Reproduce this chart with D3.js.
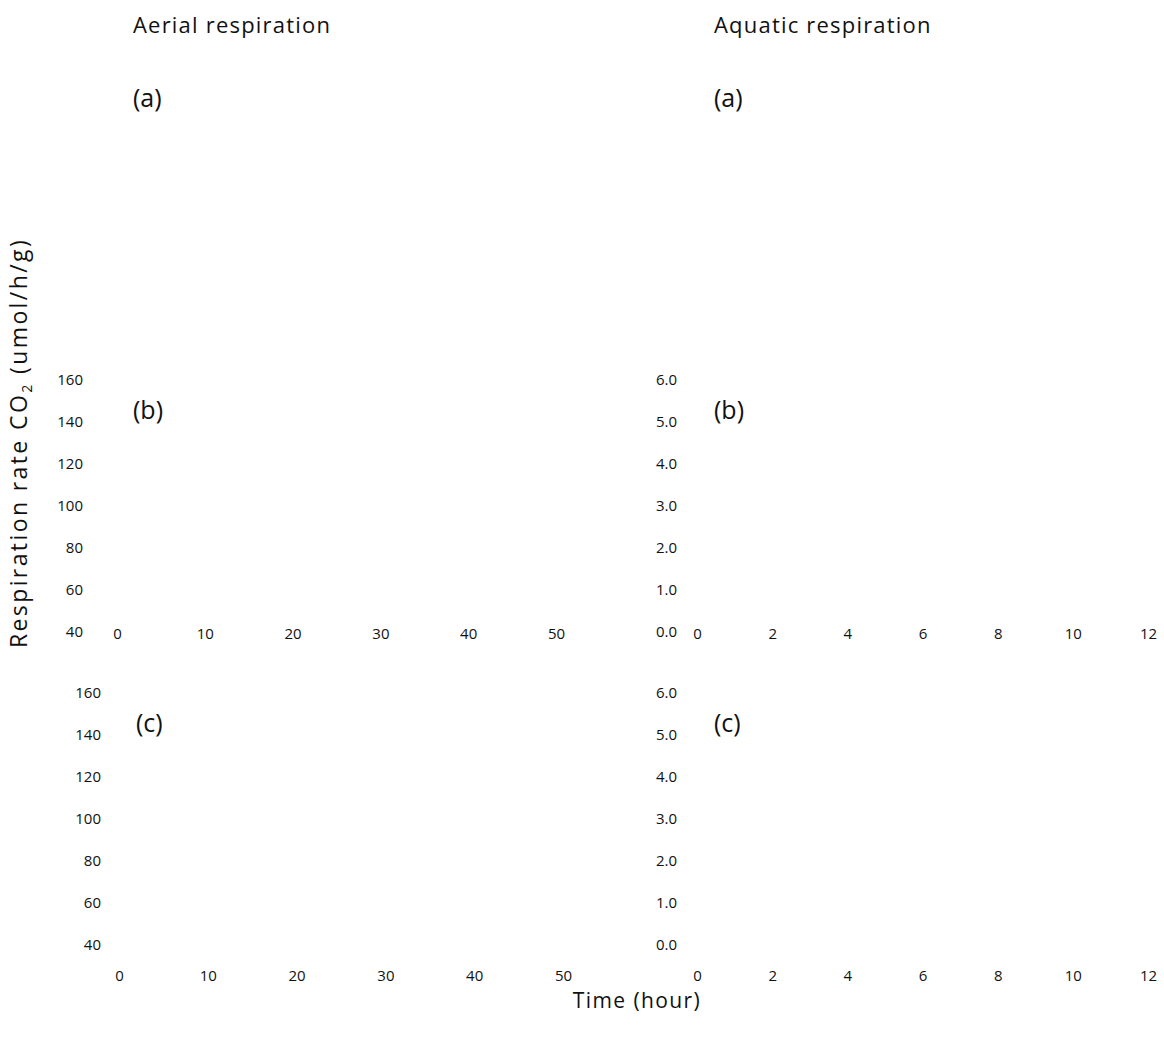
<!DOCTYPE html>
<html>
<head>
<meta charset="utf-8">
<script src="https://cdn.jsdelivr.net/npm/d3@7"></script>
<style>
  body { margin: 0; background: #fff; }
  svg { display: block; }
  text { font-family: "Open Sans", "Noto Sans", sans-serif; fill: #111; }
  .tick text { font-size: 15px; }
</style>
</head>
<body>
<script>
// ---- data (the reference shows only axes labelling; no marks are visible) ----
const columnTitles = ["Aerial respiration", "Aquatic respiration"];
const panelLabels = ["(a)", "(b)", "(c)"];
const aerialTimeTicks = [0, 10, 20, 30, 40, 50];
const aquaticTimeTicks = [0, 2, 4, 6, 8, 10, 12];
const aerialRateTicks = [40, 60, 80, 100, 120, 140, 160];
const aquaticRateTicks = [0, 1, 2, 3, 4, 5, 6];
const yAxisTitle = "Respiration rate CO";
const yAxisTitleSub = "2";
const yAxisTitleUnit = " (umol/h/g)";
const xAxisTitle = "Time (hour)";

const W = 1164, H = 1037;
const svg = d3.select("body").append("svg").attr("width", W).attr("height", H);

// column titles
const colX = [133, 714];
svg.selectAll("text.coltitle").data(columnTitles).join("text")
  .attr("class", "coltitle")
  .attr("x", (d, i) => colX[i]).attr("y", 33)
  .attr("font-size", 22).attr("letter-spacing", 1.2)
  .text(d => d);

// panel (a) labels – row with no axes
svg.selectAll("text.lab-a").data([0, 1]).join("text")
  .attr("class", "lab-a")
  .attr("x", i => colX[i]).attr("y", 107)
  .attr("font-size", 25).text(panelLabels[0]);

// panel definitions for rows (b) and (c)
const panels = [
  { row: 1, col: 0, xTicks: aerialTimeTicks, xDom: [0, 50], xRange: [117, 556], yTicks: aerialRateTicks, yDom: [40, 160], yRange: [632, 380], yLabEnd: 83, xLabY: 628, lab: [133, 419], fmt: d3.format("d") },
  { row: 1, col: 1, xTicks: aquaticTimeTicks, xDom: [0, 12], xRange: [697, 1148], yTicks: aquaticRateTicks, yDom: [0, 6], yRange: [632, 380], yLabEnd: 677, xLabY: 628, lab: [714, 419], fmt: d3.format(".1f") },
  { row: 2, col: 0, xTicks: aerialTimeTicks, xDom: [0, 50], xRange: [119, 563], yTicks: aerialRateTicks, yDom: [40, 160], yRange: [945, 693], yLabEnd: 101, xLabY: 970, lab: [136, 732], fmt: d3.format("d") },
  { row: 2, col: 1, xTicks: aquaticTimeTicks, xDom: [0, 12], xRange: [697, 1148], yTicks: aquaticRateTicks, yDom: [0, 6], yRange: [945, 693], yLabEnd: 677, xLabY: 970, lab: [714, 732], fmt: d3.format(".1f") }
];

panels.forEach(p => {
  const x = d3.scaleLinear().domain(p.xDom).range(p.xRange);
  const y = d3.scaleLinear().domain(p.yDom).range(p.yRange);

  const gy = svg.append("g")
    .attr("transform", `translate(${p.yLabEnd + 2},0)`)
    .call(d3.axisLeft(y).tickValues(p.yTicks).tickSize(0).tickPadding(2).tickFormat(p.fmt));
  gy.select(".domain").remove();
  gy.selectAll(".tick text").attr("font-family", null).attr("font-size", null);

  const gx = svg.append("g")
    .attr("transform", `translate(0,${p.xLabY - 2})`)
    .call(d3.axisBottom(x).tickValues(p.xTicks).tickSize(0).tickPadding(2).tickFormat(d3.format("d")));
  gx.select(".domain").remove();
  gx.selectAll(".tick text").attr("font-family", null).attr("font-size", null);

  svg.append("text")
    .attr("x", p.lab[0]).attr("y", p.lab[1])
    .attr("font-size", 25).text(panelLabels[p.row]);
});

// y axis title
const yt = svg.append("text")
  .attr("transform", "translate(27,443) rotate(-90)")
  .attr("text-anchor", "middle")
  .attr("font-size", 23).attr("letter-spacing", 2.4);
yt.append("tspan").text(yAxisTitle);
yt.append("tspan").attr("font-size", 14).attr("dy", 5).text(yAxisTitleSub);
yt.append("tspan").attr("dy", -5).text(yAxisTitleUnit);

// x axis title
svg.append("text")
  .attr("x", 637).attr("y", 1008)
  .attr("text-anchor", "middle")
  .attr("font-size", 21).attr("letter-spacing", 1.4).text(xAxisTitle);
</script>
</body>
</html>
